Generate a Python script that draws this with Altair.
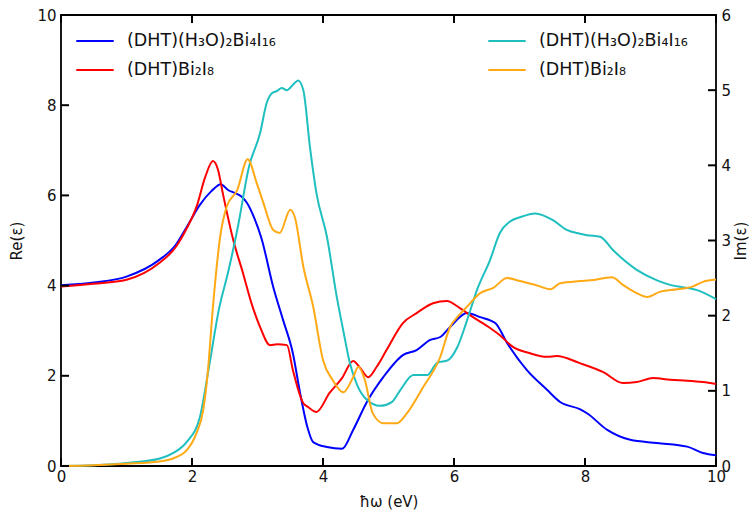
import altair as alt
import pandas as pd

FORMULA_A = "(DHT)(H₃O)₂Bi₄I₁₆"
FORMULA_B = "(DHT)Bi₂I₈"

# Re(eps), left axis
blue_x = [0, 0.5, 1.0, 1.5, 1.75, 1.92, 2.12, 2.3, 2.44, 2.55, 2.66, 2.75, 2.84, 2.95, 3.06, 3.24,
          3.39, 3.54, 3.65, 3.76, 3.85, 4.06, 4.29, 4.46, 4.67, 4.92, 5.22, 5.43, 5.63, 5.79, 5.94,
          6.2, 6.4, 6.63, 6.81, 7.11, 7.42, 7.62, 7.92, 8.03, 8.34, 8.69, 9.1, 9.56, 9.8, 10]
blue_y = [4.01, 4.07, 4.2, 4.57, 4.9, 5.3, 5.79, 6.1, 6.25, 6.12, 6.05, 5.98, 5.83, 5.5, 5.05, 3.97,
          3.24, 2.5, 1.62, 0.87, 0.53, 0.42, 0.38, 0.8, 1.42, 1.97, 2.46, 2.57, 2.79, 2.86, 3.08,
          3.39, 3.3, 3.17, 2.73, 2.13, 1.69, 1.42, 1.26, 1.17, 0.8, 0.58, 0.51, 0.43, 0.29, 0.24]

red_x = [0, 0.5, 1.0, 1.5, 1.75, 1.92, 2.07, 2.2, 2.32, 2.4, 2.47, 2.63, 2.78, 2.91, 3.04, 3.19,
         3.3, 3.45, 3.54, 3.7, 3.77, 3.9, 4.1, 4.29, 4.46, 4.57, 4.69, 4.82, 4.97, 5.22, 5.43,
         5.68, 5.89, 6.09, 6.29, 6.55, 6.7, 6.9, 7.16, 7.42, 7.57, 7.92, 8.28, 8.58, 8.79, 9.04,
         9.3, 9.56, 9.8, 10]
red_y = [3.98, 4.04, 4.13, 4.5, 4.85, 5.27, 5.75, 6.4, 6.76, 6.55, 6.05, 5.01, 4.27, 3.6, 3.08, 2.68,
         2.7, 2.68, 2.13, 1.39, 1.31, 1.2, 1.62, 1.95, 2.33, 2.17, 1.97, 2.2, 2.57, 3.17, 3.39,
         3.61, 3.66, 3.5, 3.3, 3.06, 2.9, 2.64, 2.5, 2.42, 2.44, 2.28, 2.08, 1.84, 1.86, 1.95,
         1.91, 1.89, 1.86, 1.82]

# Im(eps), right axis
cyan_x = [0, 0.5, 1.0, 1.51, 1.71, 1.92, 2.12, 2.26, 2.41, 2.56, 2.7, 2.87, 3.04, 3.14, 3.22, 3.3,
          3.37, 3.45, 3.55, 3.62, 3.7, 3.8, 3.9, 4.06, 4.21, 4.31, 4.41, 4.52, 4.67, 4.87, 5.05,
          5.18, 5.38, 5.59, 5.74, 5.91, 6.05, 6.2, 6.35, 6.55, 6.7, 6.85, 7.01, 7.24, 7.51, 7.72,
          7.92, 8.03, 8.23, 8.43, 8.79, 9.1, 9.3, 9.56, 9.71, 10]
cyan_y = [0, 0.01, 0.04, 0.1, 0.17, 0.32, 0.65, 1.32, 2.08, 2.61, 3.18, 3.98, 4.43, 4.83, 4.96, 4.99,
          5.03, 5.0, 5.08, 5.13, 5.0, 4.25, 3.63, 3.05, 2.25, 1.8, 1.37, 1.08, 0.88, 0.8, 0.85,
          1.01, 1.21, 1.21, 1.37, 1.41, 1.58, 1.94, 2.34, 2.74, 3.1, 3.25, 3.31, 3.36, 3.27, 3.14,
          3.09, 3.07, 3.05, 2.87, 2.61, 2.47, 2.41, 2.37, 2.34, 2.22]

orange_x = [0, 0.5, 1.0, 1.5, 1.71, 1.92, 2.07, 2.17, 2.24, 2.32, 2.43, 2.53, 2.69, 2.85, 2.99, 3.09,
            3.24, 3.34, 3.5, 3.57, 3.7, 3.85, 4.0, 4.15, 4.31, 4.46, 4.54, 4.64, 4.76, 4.92, 5.13,
            5.28, 5.53, 5.79, 5.94, 6.05, 6.2, 6.4, 6.6, 6.81, 7.01, 7.31, 7.47, 7.62, 7.92, 8.08,
            8.41, 8.58, 8.79, 8.95, 9.15, 9.41, 9.65, 9.8, 10]
orange_y = [0, 0.01, 0.03, 0.06, 0.1, 0.21, 0.44, 0.74, 1.24, 2.12, 3.05, 3.45, 3.67, 4.08, 3.76, 3.5,
            3.14, 3.1, 3.41, 3.31, 2.65, 2.12, 1.41, 1.14, 0.98, 1.18, 1.32, 1.14, 0.7, 0.57, 0.57,
            0.7, 1.05, 1.45, 1.85, 1.98, 2.12, 2.3, 2.37, 2.5, 2.46, 2.39, 2.35, 2.43, 2.46, 2.47,
            2.51, 2.41, 2.3, 2.25, 2.32, 2.35, 2.39, 2.45, 2.48]

re_ticks = [0, 2, 4, 6, 8, 10]
im_ticks = [0, 1, 2, 3, 4, 5, 6]
x_ticks = [0, 2, 4, 6, 8, 10]


def frame(xs, ys, name, order):
    return pd.DataFrame({"energy": xs, "value": ys, "series": name, "order": order})


re_df = pd.concat([frame(blue_x, blue_y, FORMULA_A, 0), frame(red_x, red_y, FORMULA_B, 1)])
im_df = pd.concat([frame(cyan_x, cyan_y, FORMULA_A, 0), frame(orange_x, orange_y, FORMULA_B, 1)])
xt_df = pd.DataFrame({"energy": x_ticks})
ret_df = pd.DataFrame({"t": re_ticks})
imt_df = pd.DataFrame({"t": im_ticks})

W, H = 655, 451
FONT = "DejaVu Sans"
TICK = 8
common_axis = dict(
    grid=False, domain=False, ticks=False,
    labelFontSize=15, titleFontSize=15, labelColor="#111111", titleColor="#111111",
    titleFontWeight="normal", labelFont=FONT, titleFont=FONT,
    labelFlush=False, labelOverlap=False,
)

xscale = alt.Scale(domain=[0, 10], nice=False, zero=False)
re_scale = alt.Scale(domain=[0, 10], nice=False)
im_scale = alt.Scale(domain=[0, 6], nice=False)
x_axis = alt.Axis(orient="bottom", values=x_ticks, format="d", title="ħω (eV)",
                  labelPadding=3, titlePadding=10, **common_axis)


def xenc():
    return alt.X("energy:Q", scale=xscale, axis=x_axis)


legend_common = dict(
    orient="none", title=None, symbolType="stroke", symbolStrokeWidth=2,
    symbolSize=1400, labelFontSize=17.5, labelFont=FONT, labelColor="#111111",
    labelOffset=12, rowPadding=-13, legendY=6,
)

re_chart = alt.Chart(re_df).mark_line(strokeWidth=2, interpolate="monotone").encode(
    x=xenc(),
    y=alt.Y("value:Q", scale=re_scale,
            axis=alt.Axis(orient="left", values=re_ticks, format="d", title="Re(ε)",
                          labelPadding=5, titlePadding=12, **common_axis)),
    color=alt.Color("series:N",
                    scale=alt.Scale(domain=[FORMULA_A, FORMULA_B], range=["#0000ff", "#ff0000"]),
                    legend=alt.Legend(legendX=14, **legend_common)),
    detail="order:N",
)

im_chart = alt.Chart(im_df).mark_line(strokeWidth=2, interpolate="monotone").encode(
    x=xenc(),
    y=alt.Y("value:Q", scale=im_scale,
            axis=alt.Axis(orient="right", values=im_ticks, format="d", title="Im(ε)",
                          titleAngle=270, labelPadding=5, titlePadding=18, **common_axis)),
    color=alt.Color("series:N",
                    scale=alt.Scale(domain=[FORMULA_A, FORMULA_B], range=["#1fbfbf", "#ffa915"]),
                    legend=alt.Legend(legendX=426, **legend_common)),
    detail="order:N",
)

# inward tick marks, placed at the tick values through the scales
tick_style = dict(color="#000000", strokeWidth=2, opacity=1)
x_bottom_ticks = alt.Chart(xt_df).mark_rule(**tick_style).encode(
    x=xenc(), y=alt.value(H), y2=alt.value(H - TICK))
x_top_ticks = alt.Chart(xt_df).mark_rule(**tick_style).encode(
    x=xenc(), y=alt.value(0), y2=alt.value(TICK))
left_ticks = alt.Chart(ret_df).mark_rule(**tick_style).encode(
    y=alt.Y("t:Q", scale=re_scale, axis=None), x=alt.value(0), x2=alt.value(TICK))
right_ticks = alt.Chart(imt_df).mark_rule(**tick_style).encode(
    y=alt.Y("t:Q", scale=im_scale, axis=None), x=alt.value(W), x2=alt.value(W - TICK))

chart = alt.layer(
    re_chart, im_chart, x_bottom_ticks, x_top_ticks, left_ticks, right_ticks
).resolve_scale(
    y="independent", color="independent"
).properties(
    width=W, height=H,
    autosize=alt.AutoSizeParams(type="none"),
    padding={"left": 61, "top": 15, "right": 40, "bottom": 47},
).configure(font=FONT).configure_view(stroke="black", strokeWidth=1.8)

chart.save("out.html", embed_options={"renderer": "svg", "actions": False})
